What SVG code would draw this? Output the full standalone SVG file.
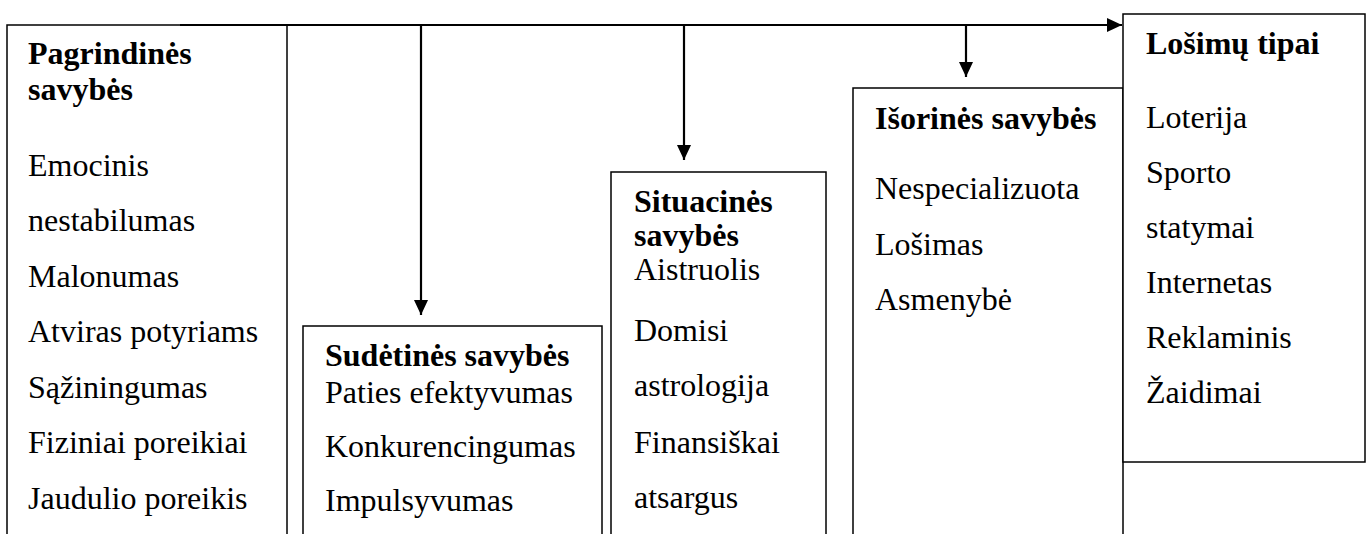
<svg xmlns="http://www.w3.org/2000/svg" width="1371" height="534" viewBox="0 0 1371 534">
<style>
.box{fill:#fff;stroke:#000;stroke-width:1.5}
.conn{fill:none;stroke:#000;stroke-width:2.2}
text{font-family:"Liberation Serif","Times New Roman",serif;font-size:32px;fill:#000}
.h{font-weight:bold}
</style>
<defs>
<marker id="arr" markerUnits="userSpaceOnUse" markerWidth="16" markerHeight="14" refX="15" refY="7" orient="auto">
<path d="M0,0 L15,7 L0,14 Z" fill="#000"/>
</marker>
</defs>
<rect width="1371" height="534" fill="#fff"/>
<g id="pagrindines">
<rect class="box" x="7" y="25" width="280" height="600"/>
<text class="h" x="28" y="64">Pagrindinės</text>
<text class="h" x="28" y="100">savybės</text>
<text x="28" y="176">Emocinis</text>
<text x="28" y="231">nestabilumas</text>
<text x="28" y="287">Malonumas</text>
<text x="28" y="342">Atviras potyriams</text>
<text x="28" y="398">Sąžiningumas</text>
<text x="28" y="453">Fiziniai poreikiai</text>
<text x="28" y="509">Jaudulio poreikis</text>
</g>
<g id="sudetines">
<rect class="box" x="303" y="326" width="299" height="300"/>
<text class="h" x="325" y="366">Sudėtinės savybės</text>
<text x="325" y="403">Paties efektyvumas</text>
<text x="325" y="457">Konkurencingumas</text>
<text x="325" y="511">Impulsyvumas</text>
</g>
<g id="situacines">
<rect class="box" x="611" y="172" width="215" height="450"/>
<text class="h" x="634" y="212">Situacinės</text>
<text class="h" x="634" y="246">savybės</text>
<text x="634" y="280">Aistruolis</text>
<text x="634" y="341">Domisi</text>
<text x="634" y="396">astrologija</text>
<text x="634" y="453">Finansiškai</text>
<text x="634" y="508">atsargus</text>
</g>
<g id="isorines">
<rect class="box" x="853" y="88" width="270" height="540"/>
<text class="h" x="875" y="129">Išorinės savybės</text>
<text x="875" y="199">Nespecializuota</text>
<text x="875" y="255">Lošimas</text>
<text x="875" y="310">Asmenybė</text>
</g>
<g id="losimu-tipai">
<rect class="box" x="1123" y="14" width="242" height="448"/>
<text class="h" x="1146" y="54">Lošimų tipai</text>
<text x="1146" y="128">Loterija</text>
<text x="1146" y="183">Sporto</text>
<text x="1146" y="238">statymai</text>
<text x="1146" y="293">Internetas</text>
<text x="1146" y="348">Reklaminis</text>
<text x="1146" y="403">Žaidimai</text>
</g>
<g id="connectors">
<line class="conn" x1="180" y1="25" x2="1122" y2="25" marker-end="url(#arr)"/>
<line class="conn" x1="421" y1="25" x2="421" y2="315" marker-end="url(#arr)"/>
<line class="conn" x1="684" y1="25" x2="684" y2="160" marker-end="url(#arr)"/>
<line class="conn" x1="966" y1="25" x2="966" y2="77" marker-end="url(#arr)"/>
</g>
</svg>
